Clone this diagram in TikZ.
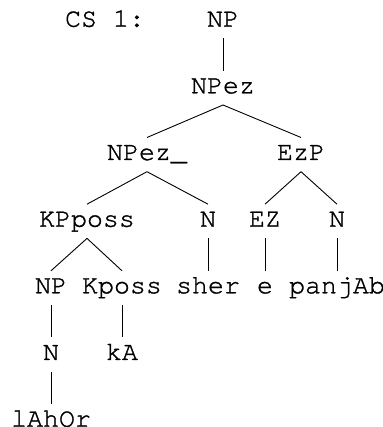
\documentclass[tikz,border=0pt]{standalone}
\usepackage{fontspec}
\setmonofont[FakeBold=1.2]{TeX Gyre Cursor}
\begin{document}
\begin{tikzpicture}[x=1pt,y=1pt,
  lbl/.style={inner sep=0pt, anchor=base, text height=22.3pt, text depth=11.5pt,
    font=\ttfamily\fontsize{26.6}{30}\selectfont},
  edge/.style={line width=0.9pt}]
\useasboundingbox (0,0) rectangle (382,427);
% rows (baselines)
\node[lbl] (cs)     at (105,400.3) {CS 1:};
\node[lbl] (np)     at (223,400.3) {NP};
\node[lbl] (npez)   at (223,333.7) {NPez};
\node[lbl] (npezu)  at (147,267) {NPez\_};
\node[lbl] (ezp)    at (301,267) {EzP};
\node[lbl] (kpposs) at (87,200.3) {KPposs};
\node[lbl] (n1)     at (208,200.3) {N};
\node[lbl] (ez)     at (265,200.3) {EZ};
\node[lbl] (n2)     at (337,200.3) {N};
\node[lbl] (np2)    at (51,133.7) {NP};
\node[lbl] (kposs)  at (122,133.7) {Kposs};
\node[lbl] (sher)   at (208,133.7) {sher};
\node[lbl] (e)      at (265,133.7) {e};
\node[lbl] (panjab) at (337,133.7) {panjAb};
\node[lbl] (n3)     at (51,67) {N};
\node[lbl] (ka)     at (122,67) {kA};
\node[lbl] (lahor)  at (51,0.3) {lAhOr};
% edges
\draw[edge] (np.south) -- (npez.north);
\draw[edge] (npez.south) -- (npezu.north);
\draw[edge] (npez.south) -- (ezp.north);
\draw[edge] (npezu.south) -- (kpposs.north);
\draw[edge] (npezu.south) -- (n1.north);
\draw[edge] (ezp.south) -- (ez.north);
\draw[edge] (ezp.south) -- (n2.north);
\draw[edge] (kpposs.south) -- (np2.north);
\draw[edge] (kpposs.south) -- (kposs.north);
\draw[edge] (n1.south) -- (sher.north);
\draw[edge] (ez.south) -- (e.north);
\draw[edge] (n2.south) -- (panjab.north);
\draw[edge] (np2.south) -- (n3.north);
\draw[edge] (kposs.south) -- (ka.north);
\draw[edge] (n3.south) -- (lahor.north);
\end{tikzpicture}
\end{document}
